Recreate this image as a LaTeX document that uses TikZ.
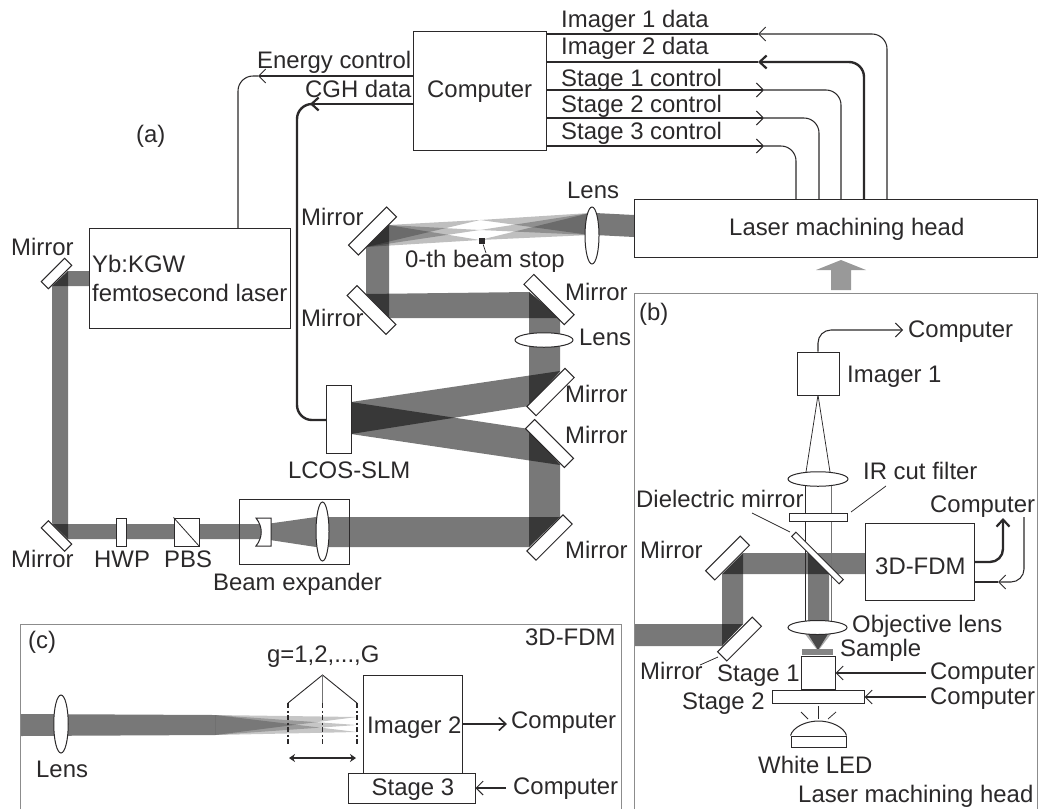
\documentclass[tikz,border=0pt]{standalone}
\usepackage{fontspec}
\setmainfont{Liberation Sans}
\usetikzlibrary{arrows.meta,shapes.geometric}
\definecolor{ink}{HTML}{2B292A}
\definecolor{frame}{HTML}{8C8C8C}
\tikzset{
  x=1pt,y=-1pt,
  lbl/.style={anchor=base west,inner sep=0pt,text=ink,font=\fontsize{23.9}{28}\selectfont},
  mirrorbox/.style={draw=ink,fill=white,line width=1pt,inner sep=0pt},
  lensbox/.style={ellipse,draw=ink,fill=white,line width=1pt,inner sep=0pt},
  beam/.style={fill=black,opacity=0.53},
  fan/.style={fill=black,opacity=0.25},
  fanc/.style={fill=black,opacity=0.222},
  sig/.style={draw=ink,line width=1.05pt},
  heavy/.style={draw=ink,line width=2.4pt},
  barb/.style={-{Straight Barb[length=7pt,width=14pt,line width=1pt]}},
  hbarb/.style={-{Straight Barb[length=7pt,width=13pt,line width=2.2pt]}},
  thin/.style={draw=ink,line width=0.75pt}
}
\newcommand{\bx}[7]{\node[draw=ink,fill=white,line width=1pt,inner sep=0pt,minimum width=#4pt,minimum height=#5pt,#7] (#1) at (#2,#3) {#6};}
\begin{document}
\begin{tikzpicture}
\useasboundingbox (0,0) rectangle (1040,809);

% ---------- beams of (a)
\fill[beam] (68,271) -- (89,271) -- (89,286) -- (52,286) -- cycle;
\fill[beam] (52,286) -- (68,271) -- (68,539) -- (52,523) -- cycle;
\fill[beam] (52,524) -- (262,524) -- (262,539) -- (68,539) -- cycle;
\fill[beam] (270,523.5) -- (316,517) -- (316,547) -- (270,540) -- cycle;
\fill[beam] (316,517) -- (560,517) -- (529,547) -- (316,547) -- cycle;
\fill[beam] (529,547) -- (560,517) -- (560,464) -- (529,429) -- cycle;
\fill[beam] (351,402) -- (529,429) -- (560,465) -- (351,434) -- cycle;
\fill[beam] (351,402) -- (560,371) -- (529,406) -- (351,434) -- cycle;
\fill[beam] (529,406) -- (560,372) -- (560,318) -- (529,292) -- cycle;
\fill[beam] (366,294) -- (529,292) -- (560,318) -- (389,318) -- cycle;
\fill[beam] (366,247) -- (389,225) -- (389,318) -- (366,294) -- cycle;
% fans through the 0-th beam stop plane
\foreach \fy in {220,230,240}{
  \fill[fan] (388,225) -- (480,\fy) -- (366,247) -- cycle;
  \fill[fan] (590,213) -- (480,\fy) -- (590,235) -- cycle;
}
\fill[beam] (595,213) -- (634,215) -- (634,237) -- (595,235) -- cycle;

% ---------- beams of (b)
\fill[beam] (634,624) -- (743,624) -- (722,646) -- (634,646) -- cycle;
\fill[beam] (722,646) -- (743,624) -- (743,553) -- (722,574) -- cycle;
\fill[beam] (722,574) -- (743,553) -- (865,553) -- (865,574) -- cycle;
\fill[beam] (808,553) -- (829,574) -- (829,621) -- (808,621) -- cycle;
\fill[fill=black!32] (805,634) -- (831,634) -- (818,651) -- cycle;
\fill[fill=black!72] (808,634) -- (828,634) -- (818,650) -- cycle;

% ---------- beams of (c)
\fill[beam] (20,714) -- (215,715) -- (215,735) -- (20,736) -- cycle;
\foreach \fy in {717,725,732}{
  \fill[fanc] (215,715) -- (357,\fy) -- (215,735) -- cycle;
}

% ---------- frames
\draw[frame,line width=1pt] (634,809) -- (634,293) -- (1037,293) -- (1037,809);
\draw[frame,line width=1pt] (20,809) -- (20,624) -- (621,624) -- (621,809);

% ---------- main boxes
\bx{comp}{479.5}{90.5}{133}{119}{}{}
\bx{head}{835.5}{228}{403}{58}{}{}
\bx{laser}{189.5}{278}{201}{100}{}{}
\bx{slm}{338.5}{419}{25}{68}{}{}
\bx{hwp}{121}{532}{10}{28}{}{}
\bx{pbs}{186.5}{532}{25}{28}{}{}
\draw[thin,line width=0.8pt] (pbs.north west) -- (pbs.south east);
\node[draw=ink,line width=1pt,inner sep=0pt,minimum width=110pt,minimum height=65pt] (bex) at (294,531.5) {};

% concave lens
\draw[draw=ink,fill=white,line width=1pt] (256,518) -- (271,518) -- (271,546) -- (256,546) .. controls (263,537) and (263,527) .. (256,518) -- cycle;

% ---------- lenses
\node[lensbox,minimum width=14pt,minimum height=57pt] (l1) at (592,235.5) {};
\node[lensbox,minimum width=58pt,minimum height=14.5pt] (l2) at (544,340) {};
\node[lensbox,minimum width=13pt,minimum height=59pt] (l3) at (322.5,531.5) {};
\node[lensbox,minimum width=60pt,minimum height=14.5pt] (l4) at (818,479) {};
\node[lensbox,minimum width=14.5pt,minimum height=58pt] (l6) at (61,724) {};

% ---------- mirrors
\node[mirrorbox,minimum width=54pt,minimum height=14pt,rotate=45] (m1) at (372.5,231) {};
\node[mirrorbox,minimum width=55pt,minimum height=14pt,rotate=-45] (m2) at (371.5,310) {};
\node[mirrorbox,minimum width=57pt,minimum height=14pt,rotate=-45] (m3) at (549,299.5) {};
\node[mirrorbox,minimum width=54pt,minimum height=13pt,rotate=45] (m4) at (550.5,392) {};
\node[mirrorbox,minimum width=55pt,minimum height=13pt,rotate=-45] (m5) at (549.5,443.5) {};
\node[mirrorbox,minimum width=51pt,minimum height=13pt,rotate=45] (m6) at (549.5,537.5) {};
\node[mirrorbox,minimum width=33pt,minimum height=10pt,rotate=45] (m7) at (56.5,273.5) {};
\node[mirrorbox,minimum width=33pt,minimum height=10pt,rotate=-45] (m8) at (56.5,536) {};
\node[mirrorbox,minimum width=49pt,minimum height=13pt,rotate=45] (m9) at (727.5,558) {};
\node[mirrorbox,minimum width=49pt,minimum height=13pt,rotate=45] (m10) at (739.5,639) {};

% ---------- beam stop
\node[fill=ink,inner sep=0pt,minimum size=6.5pt] (stop) at (482,241) {};
\coordinate (stopt) at (486,253);
\draw[thin] (stop) -- (stopt);

% ---------- signal connectors of (a)
\coordinate (hi1) at (887,199);
\coordinate (hi2) at (864,199);
\coordinate (hs1) at (841,199);
\coordinate (hs2) at (819,199);
\coordinate (hs3) at (796,199);
\coordinate (ti1) at (758,34);
\coordinate (ti2) at (758,62);
\coordinate (ts1) at (764,90);
\coordinate (ts2) at (764,118);
\coordinate (ts3) at (764,146);
\draw[sig,barb,rounded corners=15pt] (hi1) |- (ti1);
\draw[sig] (ti1) -- (ti1 -| comp.east);
\draw[heavy,hbarb,rounded corners=15pt] (hi2) |- (ti2);
\draw[heavy] (ti2) -- (ti2 -| comp.east);
\draw[sig,barb] (ts1 -| comp.east) -- (ts1);
\draw[sig,rounded corners=15pt] (ts1) -| (hs1);
\draw[sig,barb] (ts2 -| comp.east) -- (ts2);
\draw[sig,rounded corners=15pt] (ts2) -| (hs2);
\draw[sig,barb] (ts3 -| comp.east) -- (ts3);
\draw[sig,rounded corners=15pt] (ts3) -| (hs3);

\coordinate (te) at (258,76);
\coordinate (tc) at (310,104);
\coordinate (le) at (238,228);
\coordinate (sl) at (326,420);
\draw[sig,barb] (te -| comp.west) -- (te);
\draw[sig,rounded corners=15pt] (te) -| (le);
\draw[heavy,hbarb] (tc -| comp.west) -- (tc);
\draw[heavy,rounded corners=15pt] (tc) -| (297,420) -- (sl);

% ---------- grey arrow
\fill[fill=black!40] (831,290) -- (851,290) -- (851,270) -- (866,270) -- (841,260) -- (816,270) -- (831,270) -- cycle;

% ---------- panel (b)
\draw[thin,line width=0.8pt] (805,486) -- (805,621);
\draw[thin,line width=0.8pt,draw=black!55] (831,486) -- (831,621);
\draw[thin] (806,472) -- (818,395) -- (830,472);
\node[mirrorbox,minimum width=67pt,minimum height=6pt,rotate=-45] (m11) at (817.5,558) {};
\bx{img1}{818}{373.5}{42}{43}{}{}
\bx{filt}{818}{517}{58}{8}{}{}
\bx{fdm}{919.5}{561.5}{109}{77}{}{}
\fill[fill=black!48] (802,649) rectangle (833,655);
\bx{st1}{818}{672.5}{34}{33}{}{}
\bx{st2}{818}{696.5}{92}{13}{}{}
\node[lensbox,minimum width=59pt,minimum height=14pt] (l5) at (817.5,627.5) {};
% LED
\node[draw=ink,line width=1pt,inner sep=0pt,minimum width=55pt,minimum height=11pt] (led) at (818.5,741.5) {};
\draw[draw=ink,line width=1pt] (led.north west) .. controls (793,727) and (806,721) .. (818.5,721) .. controls (831,721) and (844,727) .. (led.north east);
\coordinate (r1a) at (818,706); \coordinate (r1b) at (818,719);
\coordinate (r2a) at (801,712); \coordinate (r2b) at (808,719);
\coordinate (r3a) at (836,712); \coordinate (r3b) at (828,719);
\draw[thin] (r1a) -- (r1b); \draw[thin] (r2a) -- (r2b); \draw[thin] (r3a) -- (r3b);

\coordinate (cb1) at (903,330);
\draw[sig,barb,rounded corners=13pt] (img1.north) |- (cb1);
\coordinate (fu) at (1003,518);
\draw[heavy,hbarb,rounded corners=13pt] (fdm.east |- 0,562) -| (fu);
\coordinate (fa) at (998,582);
\coordinate (fc) at (1024,517);
\draw[sig,barb,rounded corners=13pt] (fc) |- (fa);
\draw[sig] (fa) -- (fa -| fdm.east);
\coordinate (c1) at (926,673);
\coordinate (c2) at (926,697);
\draw[sig,barb] (c1) -- (c1 -| st1.east);
\draw[sig,barb] (c2) -- (c2 -| st2.east);
% leaders
\coordinate (la1) at (886,486); \coordinate (la2) at (851,512);
\coordinate (lb1) at (752,513); \coordinate (lb2) at (790,532);
\coordinate (lc1) at (700,665); \coordinate (lc2) at (718,657);
\draw[thin] (la1) -- (la2); \draw[thin] (lb1) -- (lb2); \draw[thin] (lc1) -- (lc2);

% ---------- panel (c)
\bx{img2}{413}{724}{99}{98}{}{}
\bx{st3}{411.5}{788}{127}{30}{}{}
\coordinate (dt) at (322.5,675);
\coordinate (d1) at (288,703); \coordinate (d2) at (322.5,703); \coordinate (d3) at (357,703);
\coordinate (d1e) at (288,745); \coordinate (d2e) at (322.5,745); \coordinate (d3e) at (357,745);
\draw[thin,line width=0.9pt] (d1) -- (dt) -- (d3);
\draw[draw=black!55,line width=0.9pt] (dt) -- (d2);
\foreach \a/\b in {d1/d1e,d2/d2e,d3/d3e}{
  \draw[draw=ink,line width=1.7pt,dash pattern=on 5pt off 2.5pt on 2pt off 2.5pt] (\a) -- (\b);
}
\coordinate (da) at (289,758); \coordinate (db) at (356,758);
\draw[draw=ink,line width=2.2pt,{Stealth[length=6pt,width=8pt]}-{Stealth[length=6pt,width=8pt]}] (da) -- (db);
\coordinate (c3) at (507,724);
\coordinate (c4) at (506,788);
\draw[draw=ink,line width=1.6pt,-{Straight Barb[length=7pt,width=13pt,line width=1.6pt]}] (img2.east |- c3) -- (c3);
\draw[sig,barb] (c4) -- (c4 -| st3.east);

% ---------- labels (a)
\node[lbl] (ta1) at (561,27) {Imager 1 data};
\node[lbl] (ta2) at (561,54) {Imager 2 data};
\node[lbl] (ta3) at (561,86) {Stage 1 control};
\node[lbl] (ta4) at (561,112) {Stage 2 control};
\node[lbl] (ta5) at (561,139) {Stage 3 control};
\node[lbl] (ta6) at (257,68) {Energy control};
\node[lbl] (ta7) at (305,97) {CGH data};
\node[lbl] (ta8) at (427,97) {Computer};
\node[lbl] (ta9) at (136,142) {(a)};
\node[lbl] (ta10) at (567,198) {Lens};
\node[lbl] (ta11) at (301,225) {Mirror};
\node[lbl] (ta12) at (301,326) {Mirror};
\node[lbl] (ta13) at (11,255) {Mirror};
\node[lbl] (ta14) at (92,272) {Yb:KGW};
\node[lbl] (ta15) at (92,301) {femtosecond laser};
\node[lbl] (ta16) at (405,267) {0-th beam stop};
\node[lbl] (ta17) at (729,235) {Laser machining head};
\node[lbl] (ta18) at (565,300) {Mirror};
\node[lbl] (ta19) at (579,345) {Lens};
\node[lbl] (ta20) at (565,402) {Mirror};
\node[lbl] (ta21) at (565,443) {Mirror};
\node[lbl] (ta22) at (565,558) {Mirror};
\node[lbl] (ta23) at (288,478) {LCOS-SLM};
\node[lbl] (ta24) at (11,567) {Mirror};
\node[lbl] (ta25) at (94,567) {HWP};
\node[lbl] (ta26) at (164,567) {PBS};
\node[lbl] (ta27) at (213,590) {Beam expander};
% ---------- labels (b)
\node[lbl] (tb1) at (639,320) {(b)};
\node[lbl] (tb2) at (908,337) {Computer};
\node[lbl] (tb3) at (847,382) {Imager 1};
\node[lbl] (tb4) at (863,479) {IR cut filter};
\node[lbl] (tb5) at (636,507) {Dielectric mirror};
\node[lbl] (tb6) at (930,512) {Computer};
\node[lbl] (tb7) at (875,574) {3D-FDM};
\node[lbl] (tb8) at (640,558) {Mirror};
\node[lbl] (tb9) at (640,679) {Mirror};
\node[lbl] (tb10) at (852,632) {Objective lens};
\node[lbl] (tb11) at (840,656) {Sample};
\node[lbl] (tb12) at (717,681) {Stage 1};
\node[lbl] (tb13) at (682,709) {Stage 2};
\node[lbl] (tb14) at (930,679) {Computer};
\node[lbl] (tb15) at (930,704) {Computer};
\node[lbl] (tb16) at (758,773) {White LED};
\node[lbl] (tb17) at (798,802) {Laser machining head};
% ---------- labels (c)
\node[lbl] (tc1) at (28,648) {(c)};
\node[lbl] (tc2) at (525,645) {3D-FDM};
\node[lbl] (tc3) at (267,662) {g=1,2,...,G};
\node[lbl] (tc4) at (367,733) {Imager 2};
\node[lbl] (tc5) at (371.5,795) {Stage 3};
\node[lbl] (tc6) at (511,728) {Computer};
\node[lbl] (tc7) at (513,794) {Computer};
\node[lbl] (tc8) at (36,777) {Lens};
\end{tikzpicture}
\end{document}
